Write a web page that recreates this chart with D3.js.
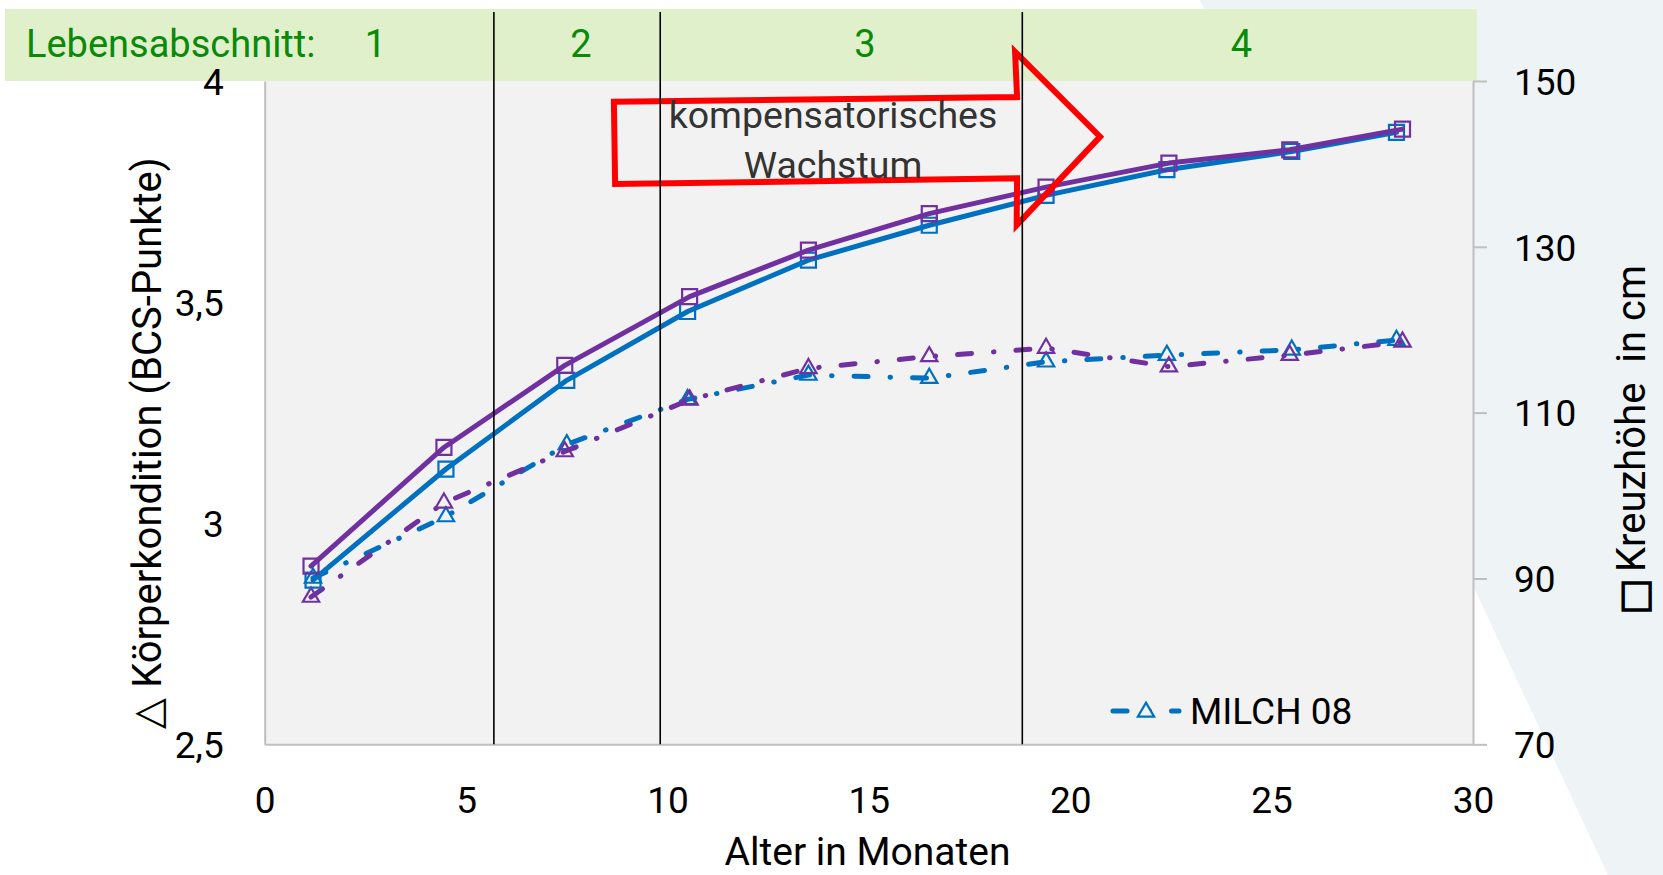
<!DOCTYPE html>
<html>
<head>
<meta charset="utf-8">
<script src="https://cdn.jsdelivr.net/npm/d3@7"></script>
<style>
  html, body { margin: 0; padding: 0; background: #fff; }
  svg { display: block; font-family: Roboto, "Open Sans", sans-serif; }
</style>
</head>
<body>
<div class="container"></div>
<script>
'use strict';

// Alter in Monaten (x) per Gruppe
const monthsBlue = [1.2, 4.5, 7.5, 10.5, 13.5, 16.5, 19.4, 22.4, 25.5, 28.1];
const monthsPurple = [1.15, 4.45, 7.45, 10.55, 13.5, 16.5, 19.4, 22.45, 25.45, 28.25];

// Kreuzhöhe in cm (rechte Achse, Quadrate)
const heightBlue = [89.8, 103.2, 113.9, 122.2, 128.4, 132.6, 136.2, 139.3, 141.5, 143.8];
const heightPurple = [91.5, 105.8, 115.7, 124.0, 129.6, 134.0, 137.2, 140.1, 141.7, 144.2];

// Körperkondition BCS (linke Achse, Dreiecke)
const bcsBlue = [2.876, 3.015, 3.178, 3.28, 3.335, 3.328, 3.365, 3.38, 3.392, 3.414];
const bcsPurple = [2.833, 3.046, 3.162, 3.279, 3.35, 3.377, 3.396, 3.354, 3.38, 3.41];

// Lebensabschnitte
const phaseBounds = [5.69, 9.82, 18.81];
const phaseLabels = ['1', '2', '3', '4'];
const phaseLabelMonths = [2.75, 7.85, 14.9, 24.25];

// Achsen
const xTicks = [0, 5, 10, 15, 20, 25, 30];
const bcsTicks = [2.5, 3, 3.5, 4];
const heightTicks = [70, 90, 110, 130, 150];

// Pfeil "kompensatorisches Wachstum" in (Monat, BCS)
const arrowPoints = [
  [8.67, 3.953], [18.68, 3.964], [18.63, 4.066], [20.74, 3.874],
  [18.67, 3.674], [18.68, 3.780], [8.70, 3.767]
];

const BLUE = '#0070c0';
const PURPLE = '#7030a0';
const W = 1663, H = 875;
const plot = { left: 264.7, right: 1473, top: 81, bottom: 744.3 };

const svg = d3.select('.container').append('svg')
  .attr('width', W)
  .attr('height', H);

// slide background shape
svg.append('polygon')
  .attr('points', [[1200, 0], [W, 0], [W, H], [1608, H]].join(' '))
  .attr('fill', '#eef3f6');

const x = d3.scaleLinear().domain([0, 30]).range([plot.left, plot.right]);
const yL = d3.scaleLinear().domain([2.5, 4]).range([plot.bottom, plot.top]);
const yR = d3.scaleLinear().domain([70, 150]).range([plot.bottom, plot.top]);

svg.append('rect')
  .attr('x', plot.left).attr('y', plot.top)
  .attr('width', plot.right - plot.left).attr('height', plot.bottom - plot.top)
  .attr('fill', '#f2f2f2');

// green band for Lebensabschnitte
svg.append('rect')
  .attr('x', 5).attr('y', 9)
  .attr('width', 1472).attr('height', 72)
  .attr('fill', '#dff0ca');

const comma = d => String(d).replace('.', ',');

function styleAxis(g) {
  g.selectAll('.domain, .tick line').attr('stroke', '#bfbfbf').attr('stroke-width', 2);
  g.selectAll('text').attr('font-size', 37).attr('fill', '#000')
    .attr('font-family', 'Roboto, sans-serif');
}

svg.append('g')
  .attr('transform', `translate(0,${plot.bottom})`)
  .call(d3.axisBottom(x).tickValues(xTicks).tickSize(0).tickPadding(42))
  .call(styleAxis);

svg.append('g')
  .attr('transform', `translate(${plot.left},0)`)
  .call(d3.axisLeft(yL).tickValues(bcsTicks).tickSize(0).tickPadding(41).tickFormat(comma))
  .call(styleAxis)
  .selectAll('text').attr('dy', '0.36em');

svg.append('g')
  .attr('transform', `translate(${plot.right},0)`)
  .call(d3.axisRight(yR).tickValues(heightTicks).tickSize(14).tickSizeOuter(0).tickPadding(27))
  .call(styleAxis)
  .selectAll('text').attr('dy', '0.36em');

// series
const triangle = d3.symbol(d3.symbolTriangle, 115)();
const square = d3.symbol(d3.symbolSquare, 225)();
const dashDot = '14 22 0.5 22';

const series = [
  { months: monthsBlue, values: bcsBlue, y: yL, color: BLUE, dash: dashDot, marker: triangle },
  { months: monthsPurple, values: bcsPurple, y: yL, color: PURPLE, dash: dashDot, marker: triangle },
  { months: monthsBlue, values: heightBlue, y: yR, color: BLUE, dash: null, marker: square },
  { months: monthsPurple, values: heightPurple, y: yR, color: PURPLE, dash: null, marker: square }
];

series.forEach(s => {
  const pts = s.values.map((v, i) => [s.months[i], v]);
  const line = d3.line().x(d => x(d[0])).y(d => s.y(d[1]));
  svg.append('path')
    .attr('d', line(pts))
    .attr('fill', 'none')
    .attr('stroke', s.color)
    .attr('stroke-width', 5)
    .attr('stroke-linecap', 'round')
    .attr('stroke-linejoin', 'round')
    .attr('stroke-dasharray', s.dash);
  svg.append('g').selectAll('path')
    .data(pts)
    .enter()
    .append('path')
    .attr('transform', d => `translate(${x(d[0])},${s.y(d[1])})`)
    .attr('d', s.marker)
    .attr('fill', 'none')
    .attr('stroke', s.color)
    .attr('stroke-width', 2.2);
});

// block arrow
svg.append('polygon')
  .attr('points', arrowPoints.map(p => [x(p[0]), yL(p[1])].join(',')).join(' '))
  .attr('fill', 'none')
  .attr('stroke', '#ff0000')
  .attr('stroke-width', 6)
  .attr('stroke-linejoin', 'miter');

svg.append('text')
  .attr('x', 833).attr('y', 128)
  .attr('text-anchor', 'middle')
  .attr('font-size', 37.5).attr('fill', '#333')
  .text('kompensatorisches');
svg.append('text')
  .attr('x', 833).attr('y', 178)
  .attr('text-anchor', 'middle')
  .attr('font-size', 37.5).attr('fill', '#333')
  .text('Wachstum');

// phase boundaries
svg.append('g').selectAll('line')
  .data(phaseBounds)
  .enter()
  .append('line')
  .attr('x1', d => x(d)).attr('x2', d => x(d))
  .attr('y1', 12).attr('y2', plot.bottom)
  .attr('stroke', '#000')
  .attr('stroke-width', 1.6);

// band labels
svg.append('text')
  .attr('x', 26).attr('y', 57)
  .attr('font-size', 38).attr('fill', '#098a09')
  .text('Lebensabschnitt:');
svg.append('g').selectAll('text')
  .data(phaseLabels)
  .enter()
  .append('text')
  .attr('x', (d, i) => x(phaseLabelMonths[i]))
  .attr('y', 57)
  .attr('text-anchor', 'middle')
  .attr('font-size', 38).attr('fill', '#098a09')
  .text(d => d);

// legend
const legend = svg.append('g').attr('transform', 'translate(1113,711)');
legend.append('line')
  .attr('x1', 0).attr('x2', 66)
  .attr('stroke', BLUE).attr('stroke-width', 5)
  .attr('stroke-linecap', 'round')
  .attr('stroke-dasharray', dashDot);
legend.append('path')
  .attr('transform', 'translate(33,1)')
  .attr('d', triangle)
  .attr('fill', '#f2f2f2')
  .attr('stroke', BLUE).attr('stroke-width', 2.2);
legend.append('text')
  .attr('x', 77).attr('y', 13)
  .attr('font-size', 37)
  .text('MILCH 08');

// axis titles
svg.append('text')
  .attr('x', 867.5).attr('y', 865)
  .attr('text-anchor', 'middle')
  .attr('font-size', 39)
  .text('Alter in Monaten');

svg.append('text')
  .attr('transform', 'translate(161,443) rotate(-90)')
  .attr('text-anchor', 'middle')
  .attr('font-size', 40)
  .text('\u25B3 Körperkondition (BCS-Punkte)');

const rightTitle = svg.append('text')
  .attr('transform', 'translate(1645,438) rotate(-90)')
  .attr('text-anchor', 'middle')
  .attr('font-size', 40)
  .style('white-space', 'pre');
rightTitle.append('tspan')
  .attr('font-size', 48)
  .attr('stroke', '#000')
  .attr('stroke-width', 1.6)
  .attr('dy', 6)
  .text('\u25A1');
rightTitle.append('tspan')
  .attr('dy', -6)
  .text(' Kreuzhöhe  in cm');
</script>
</body>
</html>
